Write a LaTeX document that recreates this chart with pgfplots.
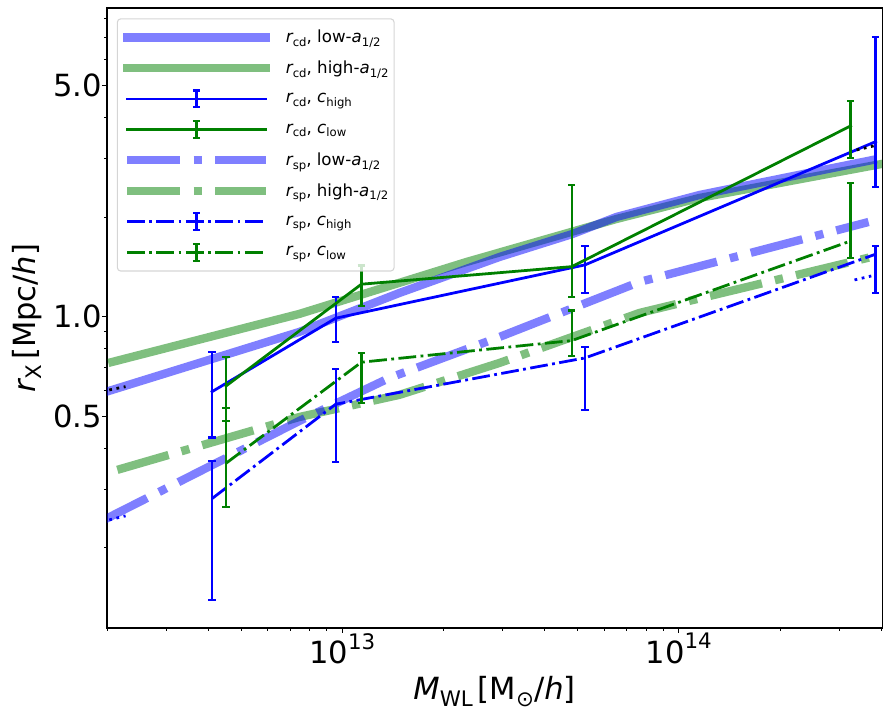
\documentclass[border=0pt]{standalone}
\usepackage{fontspec}
\setmainfont{DejaVu Sans}
\usepackage{pgfplots}
\pgfplotsset{compat=1.18}
\usetikzlibrary{calc}
\definecolor{mblue}{RGB}{0,0,255}
\definecolor{mgreen}{RGB}{0,128,0}
\definecolor{lgray}{RGB}{204,204,204}
\newcommand\sub[2][8.4]{\raisebox{-0.22em}{\fontsize{#1}{#1}\selectfont #2}}
\newcommand\sups[2][15.4]{\raisebox{0.48em}{\fontsize{#1}{#1}\selectfont #2}}
\tikzset{
 thicksolid/.style={line width=6pt, draw opacity=0.5, line join=round, line cap=rect},
 thickdd/.style={line width=6pt, draw opacity=0.5, line join=round, line cap=butt, dash pattern=on 38.4pt off 9.6pt on 6pt off 9.6pt},
 thinsolid/.style={line width=2pt, line join=round, line cap=rect},
 thindd/.style={line width=2pt, line join=round, line cap=butt, dash pattern=on 12.8pt off 3.2pt on 2pt off 3.2pt},
 dottedm/.style={line width=2pt, line cap=butt, dash pattern=on 2pt off 3.3pt},
}
\pgfplotsset{
 errb/.style={error bars/.cd, y dir=both, y explicit, error bar style={line width=1.6pt, solid, line cap=butt}, error mark=-, error mark options={rotate=90, line width=1.6pt, mark size=2.6pt, solid}},
}
\newcommand\lgbox{\path[draw=none,fill=none] (0pt,-11.05pt) rectangle (100pt,11.05pt);}
\newcommand\lgline[1]{\lgbox \draw[#1, draw opacity=0.5, rounded corners=0pt] (0pt,0pt)--(100pt,0pt);}
\newcommand\lgerr[2]{\lgbox \draw[#1, draw opacity=1, rounded corners=0pt] (0pt,0pt)--(100pt,0pt);
  \draw[#2, draw opacity=1, solid, rounded corners=0pt, line width=1.6pt, line cap=butt] (50pt,-6pt)--(50pt,6pt) (47.4pt,-6pt)--(52.6pt,-6pt) (47.4pt,6pt)--(52.6pt,6pt);}
\begin{document}
\begin{tikzpicture}
\begin{axis}[
 scale only axis, width=558pt, height=446.4pt,
 xmode=log, ymode=log,
 xmin=2e12, xmax=4.02e14, ymin=0.1143, ymax=8.58,
 axis line style={line width=0.8pt},
 xtick pos=bottom, ytick pos=left,
 tick align=outside, major tick length=3.5pt, minor tick length=2pt,
 major tick style={line width=0.8pt, black}, minor tick style={line width=0.6pt, black},
 xtick={1e13,1e14}, xticklabels={10\sups{13},10\sups{14}},
 minor xtick={2e12,3e12,4e12,5e12,6e12,7e12,8e12,9e12,2e13,3e13,4e13,5e13,6e13,7e13,8e13,9e13,2e14,3e14,4e14},
 ytick={0.5,1,5}, yticklabels={0.5,1.0,5.0},
 minor ytick={0.2,0.3,0.4,0.6,0.7,0.8,0.9,2,3,4,6,7,8},
 ticklabel style={font=\fontsize{22}{26.4}\selectfont},
 xticklabel style={inner sep=0pt},
 yticklabel style={inner sep=0pt},
 xlabel={{\itshape M}\sub[15.4]{WL}\,[M\sub[15.4]{⊙}/{\itshape h}]},
 ylabel={{\itshape r}\sub[15.4]{X}\,[Mpc/{\itshape h}]},
 xlabel style={at={(axis description cs:0.5,-0.0775)}, anchor=north, inner sep=0pt, font=\fontsize{22}{26.4}\selectfont},
 ylabel style={at={(axis description cs:-0.08387,0.5)}, anchor=south, inner sep=0pt, font=\fontsize{22}{26.4}\selectfont},
 legend cell align=left,
 legend style={at={(axis description cs:0.012545,0.98342)}, anchor=north west,
   font=\fontsize{12}{14.4}\selectfont, draw=lgray, line width=0.8pt, rounded corners=2.5pt,
   fill=white, fill opacity=0.8, draw opacity=0.8, text opacity=1,
   inner xsep=4pt, inner ysep=2.4pt, row sep=0pt,
   nodes={inner xsep=0pt, inner ysep=0pt, draw=none, fill=none},
   /tikz/every odd column/.append style={column sep=11.4pt}},
]
% thick model curves
\addplot[mgreen, thicksolid, forget plot] coordinates {(2.074e12,0.7294) (7.459e12,1.019) (2.34e13,1.463) (6.531e13,1.974) (1.153e14,2.285) (4.006e14,2.895)};
\addplot[mblue, thicksolid, forget plot] coordinates {(1.9e12,0.5840) (7.459e12,0.8989) (1.479e13,1.179) (2.934e13,1.515) (4.834e13,1.778) (6.531e13,2.002) (1.153e14,2.333) (3.768e14,2.977)};
\addplot[mgreen, thickdd, forget plot] coordinates {(2.146e12,0.3439) (7.459e12,0.497) (1.479e13,0.5798) (2.934e13,0.7243) (7.647e13,1.026) (3.742e14,1.515)};
\addplot[mblue, thickdd, forget plot] coordinates {(1.9e12,0.2390) (7.459e12,0.4836) (1.381e13,0.6524) (2.934e13,0.868) (7.647e13,1.273) (3.666e14,1.933)};
% thin measured curves with error bars
\addplot[mblue, thinsolid, forget plot, errb] coordinates {
 (4.104e12,0.5930) += (0,0.1906) -= (0,0.1625)
 (9.563e12,0.9888) += (0,0.1556) -= (0,0.1523)
 (5.265e13,1.4336) += (0,0.2054) -= (0,0.2566)
 (3.846e14,3.382) += (0,3.615) -= (0,0.910)};
\addplot[mgreen, thinsolid, forget plot, errb] coordinates {
 (4.516e12,0.6171) += (0,0.1397) -= (0,0.1335)
 (1.140e13,1.2530) += (0,0.1736) -= (0,0.1736)
 (4.81e13,1.416) += (0,1.080) -= (0,0.2716)
 (3.241e14,3.773) += (0,0.707) -= (0,0.761)};
\addplot[mblue, thindd, forget plot, errb] coordinates {
 (4.104e12,0.2816) += (0,0.0837) -= (0,0.1425)
 (9.563e12,0.5433) += (0,0.1500) -= (0,0.1806)
 (5.265e13,0.7499) += (0,0.0614) -= (0,0.2277)
 (3.846e14,1.544) += (0,0.092) -= (0,0.367)};
\addplot[mgreen, thindd, forget plot, errb] coordinates {
 (4.516e12,0.3602) += (0,0.1681) -= (0,0.0950)
 (1.140e13,0.7278) += (0,0.0504) -= (0,0.1806)
 (4.81e13,0.8462) += (0,0.1964) -= (0,0.0859)
 (3.241e14,1.693) += (0,0.838) -= (0,0.185)};
% short dotted extensions
\addplot[black, dottedm, forget plot] coordinates {(2.03e12,0.600) (2.27e12,0.614)};
\addplot[mblue, dottedm, forget plot] coordinates {(2.03e12,0.2427) (2.27e12,0.2496)};
\addplot[black, dottedm, forget plot] coordinates {(3.377e14,3.192) (3.898e14,3.305)};
\addplot[mblue, dottedm, forget plot] coordinates {(3.33e14,1.291) (3.735e14,1.327)};
% legend
\addlegendimage{legend image code/.code={\lgline{mblue,thicksolid}}}
\addlegendentry{{\itshape r}\sub{cd}, low-{\itshape a}\sub{1/2}}
\addlegendimage{legend image code/.code={\lgline{mgreen,thicksolid}}}
\addlegendentry{{\itshape r}\sub{cd}, high-{\itshape a}\sub{1/2}}
\addlegendimage{legend image code/.code={\lgerr{mblue,thinsolid}{mblue}}}
\addlegendentry{{\itshape r}\sub{cd}, {\itshape c}\sub{high}}
\addlegendimage{legend image code/.code={\lgerr{mgreen,thinsolid}{mgreen}}}
\addlegendentry{{\itshape r}\sub{cd}, {\itshape c}\sub{low}}
\addlegendimage{legend image code/.code={\lgline{mblue,thickdd}}}
\addlegendentry{{\itshape r}\sub{sp}, low-{\itshape a}\sub{1/2}}
\addlegendimage{legend image code/.code={\lgline{mgreen,thickdd}}}
\addlegendentry{{\itshape r}\sub{sp}, high-{\itshape a}\sub{1/2}}
\addlegendimage{legend image code/.code={\lgerr{mblue,thindd}{mblue}}}
\addlegendentry{{\itshape r}\sub{sp}, {\itshape c}\sub{high}}
\addlegendimage{legend image code/.code={\lgerr{mgreen,thindd}{mgreen}}}
\addlegendentry{{\itshape r}\sub{sp}, {\itshape c}\sub{low}}
\end{axis}
\pgfresetboundingbox
\path ($(current axis.south west)+(-77.04pt,-64.8pt)$) rectangle ($(current axis.north east)+(6.48pt,5.76pt)$);
\end{tikzpicture}
\end{document}
